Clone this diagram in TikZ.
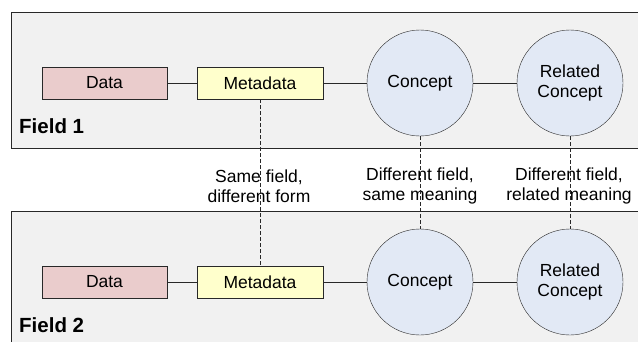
\documentclass[tikz,border=0pt]{standalone}
\usepackage{fontspec}
\setmainfont{Liberation Sans}
\usetikzlibrary{positioning}

\definecolor{fieldgray}{RGB}{241,241,241}
\definecolor{datapink}{RGB}{234,204,204}
\definecolor{metayellow}{RGB}{255,255,204}
\definecolor{conceptblue}{RGB}{226,233,245}
\definecolor{edgegray}{RGB}{40,40,40}

\tikzset{
  databox/.style={draw=edgegray, fill=datapink, minimum width=125pt, minimum height=32pt, inner sep=0pt},
  metabox/.style={draw=edgegray, fill=metayellow, minimum width=126pt, minimum height=32pt, inner sep=0pt},
  conceptnode/.style={draw=edgegray, circle, fill=conceptblue, minimum size=106pt, inner sep=0pt, align=center},
  linklabel/.style={align=center, inner sep=1pt},
  fieldlabel/.style={font=\fontsize{20.5}{24}\selectfont\bfseries, anchor=base west, inner sep=0pt},
  linkline/.style={edgegray, dash pattern=on 4pt off 2pt}
}

\begin{document}
\begin{tikzpicture}[x=1pt, y=-1pt, every node/.style={font=\fontsize{17.5}{20.5}\selectfont}]
        \useasboundingbox (0,0) rectangle (638,341);
        % the two fields
        \draw[edgegray, fill=fieldgray] (11,12) rectangle (660,148);
        \draw[edgegray, fill=fieldgray] (11,211) rectangle (660,360);
        \node[fieldlabel] (field1) at (19,133) {Field 1};
        \node[fieldlabel] (field2) at (19,332) {Field 2};
        % field 1
        \node[databox] (data1) at (104.5,83) {Data};
        \node[metabox] (meta1) at (260,83) {Metadata};
        \node[conceptnode] (concept1) at (420,83) {Concept};
        \node[conceptnode] (related1) at (570,83) {Related\\Concept};
        % field 2
        \node[databox] (data2) at (104.5,282) {Data};
        \node[metabox] (meta2) at (260,282) {Metadata};
        \node[conceptnode] (concept2) at (420,282) {Concept};
        \node[conceptnode] (related2) at (570,282) {Related\\Concept};
        \foreach \i in {1, 2} {
          \draw[edgegray] (data\i) -- (meta\i);
          \draw[edgegray] (meta\i) -- (concept\i);
          \draw[edgegray] (concept\i) -- (related\i);
        }
        % links between the fields
        \node[linklabel] (same) at (259,186) {Same field,\\different form};
        \node[linklabel] (meaning) at (420,186) {Different field,\\same meaning};
        \node[linklabel] (relmeaning) at (569,186) {Different field,\\related meaning};
        \draw[linkline] (meta1.south) -- (meta2.north);
        \draw[linkline] (concept1.south) -- (concept2.north);
        \draw[linkline] (related1.south) -- (related2.north);
      \end{tikzpicture}
\end{document}
